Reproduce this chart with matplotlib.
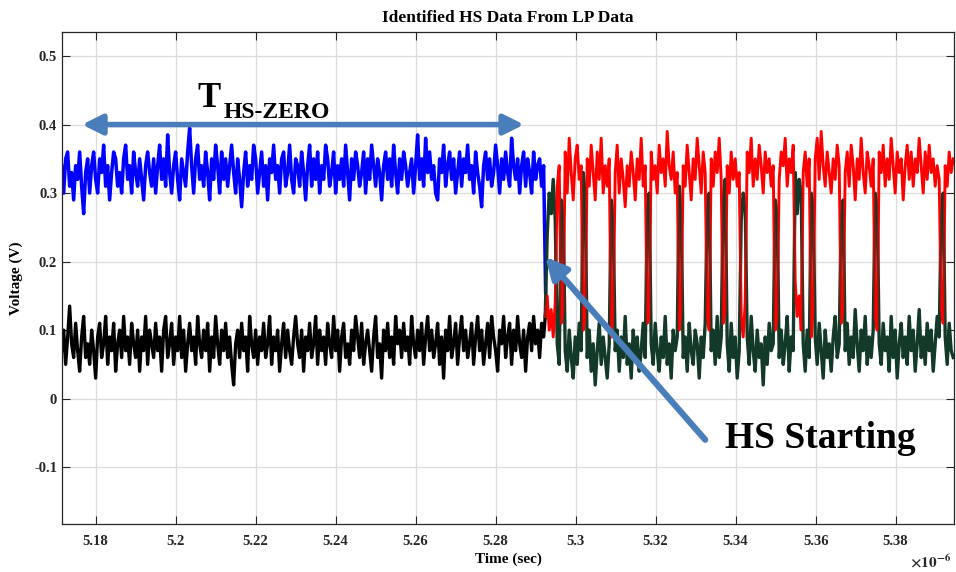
import numpy as np
import matplotlib
matplotlib.use("Agg")
import matplotlib.pyplot as plt
from matplotlib import ticker

plt.rcParams['font.family'] = ['Liberation Serif', 'DejaVu Serif']
plt.rcParams['font.weight'] = 'bold'
plt.rcParams['axes.unicode_minus'] = False
plt.rcParams['mathtext.fontset'] = 'stix'

# LP part (before HS start): sampled every 0.0005 us from 5.1715 us
T0_LP = 5.1715
DT_LP = 0.0005
lp_blue = [
    0.34, 0.30, 0.35, 0.36, 0.31, 0.33, 0.29, 0.34, 0.32, 0.36,
    0.31, 0.27, 0.33, 0.35, 0.30, 0.34, 0.36, 0.32, 0.30, 0.35,
    0.33, 0.37, 0.31, 0.34, 0.29, 0.33, 0.36, 0.35, 0.31, 0.33,
    0.30, 0.35, 0.37, 0.32, 0.34, 0.30, 0.36, 0.33, 0.31, 0.35,
    0.32, 0.29, 0.34, 0.36, 0.33, 0.31, 0.35, 0.30, 0.34, 0.37,
    0.32, 0.35, 0.31, 0.385, 0.33, 0.30, 0.34, 0.36, 0.32, 0.29,
    0.35, 0.33, 0.31, 0.36, 0.395, 0.34, 0.30, 0.35, 0.37, 0.32,
    0.34, 0.31, 0.36, 0.33, 0.29, 0.35, 0.32, 0.37, 0.34, 0.30,
    0.36, 0.32, 0.35, 0.31, 0.34, 0.37, 0.33, 0.30, 0.35, 0.32,
    0.28, 0.33, 0.36, 0.31, 0.34, 0.32, 0.37, 0.35, 0.30, 0.33,
    0.36, 0.31, 0.34, 0.29, 0.35, 0.33, 0.37, 0.32, 0.34, 0.30,
    0.35, 0.36, 0.31, 0.33, 0.37, 0.32, 0.30, 0.35, 0.34, 0.31,
    0.36, 0.33, 0.29, 0.34, 0.37, 0.31, 0.35, 0.32, 0.36, 0.30,
    0.34, 0.32, 0.37, 0.35, 0.31, 0.33, 0.36, 0.30, 0.34, 0.32,
    0.35, 0.31, 0.37, 0.33, 0.29, 0.35, 0.32, 0.36, 0.34, 0.31,
    0.33, 0.36, 0.30, 0.35, 0.32, 0.37, 0.34, 0.31, 0.35, 0.33,
    0.29, 0.34, 0.36, 0.32, 0.35, 0.31, 0.37, 0.33, 0.30, 0.35,
    0.32, 0.36, 0.34, 0.31, 0.33, 0.35, 0.30, 0.34, 0.385, 0.32,
    0.35, 0.31, 0.38, 0.33, 0.36, 0.32, 0.34, 0.30, 0.29, 0.35,
    0.33, 0.37, 0.31, 0.34, 0.36, 0.32, 0.35, 0.30, 0.33, 0.36,
    0.31, 0.35, 0.33, 0.37, 0.32, 0.34, 0.30, 0.36, 0.33, 0.31,
    0.28, 0.34, 0.36, 0.32, 0.35, 0.31, 0.33, 0.37, 0.34, 0.30,
    0.35, 0.32, 0.36, 0.33, 0.31, 0.38, 0.34, 0.32, 0.35, 0.30,
    0.34, 0.36, 0.31, 0.35, 0.33, 0.30, 0.36, 0.32, 0.34, 0.35,
    0.31, 0.34, 0.155,
]
lp_black = [
    0.07, 0.10, 0.05, 0.09, 0.135, 0.08, 0.06, 0.11, 0.07, 0.04,
    0.09, 0.12, 0.06, 0.08, 0.05, 0.10, 0.07, 0.03, 0.09, 0.11,
    0.06, 0.08, 0.12, 0.05, 0.09, 0.07, 0.11, 0.04, 0.08, 0.10,
    0.06, 0.12, 0.07, 0.09, 0.05, 0.11, 0.08, 0.06, 0.10, 0.04,
    0.09, 0.07, 0.12, 0.05, 0.10, 0.08, 0.06, 0.11, 0.07, 0.09,
    0.04, 0.10, 0.12, 0.06, 0.08, 0.11, 0.05, 0.09, 0.07, 0.12,
    0.06, 0.10, 0.04, 0.08, 0.11, 0.07, 0.09, 0.05, 0.12, 0.08,
    0.06, 0.10, 0.07, 0.11, 0.04, 0.09, 0.06, 0.12, 0.08, 0.05,
    0.10, 0.07, 0.11, 0.06, 0.09, 0.05, 0.02, 0.08, 0.10, 0.06,
    0.11, 0.07, 0.09, 0.04, 0.12, 0.08, 0.06, 0.10, 0.05, 0.09,
    0.07, 0.11, 0.06, 0.08, 0.12, 0.05, 0.09, 0.07, 0.10, 0.04,
    0.08, 0.11, 0.06, 0.10, 0.07, 0.05, 0.09, 0.12, 0.08, 0.06,
    0.10, 0.04, 0.09, 0.07, 0.11, 0.06, 0.08, 0.12, 0.05, 0.10,
    0.07, 0.09, 0.05, 0.11, 0.08, 0.06, 0.12, 0.07, 0.10, 0.04,
    0.09, 0.11, 0.06, 0.08, 0.05, 0.10, 0.07, 0.12, 0.09, 0.06,
    0.11, 0.05, 0.08, 0.10, 0.07, 0.04, 0.09, 0.12, 0.06, 0.08,
    0.03, 0.10, 0.07, 0.11, 0.06, 0.09, 0.05, 0.12, 0.08, 0.10,
    0.06, 0.11, 0.07, 0.09, 0.05, 0.12, 0.08, 0.06, 0.10, 0.07,
    0.11, 0.05, 0.09, 0.12, 0.07, 0.10, 0.06, 0.08, 0.11, 0.05,
    0.09, 0.03, 0.10, 0.07, 0.12, 0.06, 0.08, 0.11, 0.05, 0.09,
    0.12, 0.07, 0.10, 0.06, 0.08, 0.11, 0.05, 0.09, 0.12, 0.07,
    0.10, 0.05, 0.08, 0.11, 0.06, 0.12, 0.09, 0.07, 0.04, 0.10,
    0.08, 0.12, 0.06, 0.09, 0.11, 0.05, 0.10, 0.07, 0.12, 0.08,
    0.06, 0.10, 0.04, 0.09, 0.11, 0.07, 0.12, 0.08, 0.10, 0.06,
    0.11, 0.09, 0.126,
]

# HS part: sampled every 0.0005 us from 5.2924 us
T0_HS = 5.2924
DT_HS = 0.0005
hs_red = [
    0.12, 0.15, 0.10, 0.13, 0.09, 0.14,
    0.31, 0.34,
    0.11, 0.13,
    0.36, 0.30, 0.38, 0.33, 0.29, 0.35, 0.37, 0.32, 0.34,
    0.10, 0.12,
    0.35, 0.31, 0.37, 0.33, 0.29, 0.36, 0.32, 0.38, 0.30, 0.34, 0.31, 0.35,
    0.09, 0.13,
    0.33, 0.37, 0.30, 0.35, 0.32, 0.28, 0.34, 0.31, 0.36, 0.33, 0.29, 0.35,
    0.32, 0.38, 0.31, 0.34,
    0.11, 0.12,
    0.36, 0.32, 0.34, 0.30, 0.37, 0.33, 0.35, 0.31, 0.39, 0.34, 0.32, 0.36,
    0.30, 0.33,
    0.10, 0.13,
    0.34, 0.31, 0.37, 0.33, 0.29, 0.35, 0.32, 0.38, 0.34, 0.30, 0.36, 0.33,
    0.12, 0.10,
    0.35, 0.31, 0.36, 0.33, 0.38, 0.32,
    0.11, 0.13,
    0.34, 0.30, 0.36, 0.32, 0.35, 0.31, 0.33,
    0.12, 0.09, 0.14,
    0.36, 0.33, 0.38, 0.31, 0.35, 0.32, 0.37, 0.34, 0.30, 0.36, 0.33, 0.35,
    0.31, 0.34,
    0.10, 0.12,
    0.32, 0.36, 0.34, 0.38, 0.31, 0.35, 0.33, 0.37,
    0.17, 0.12, 0.15, 0.10,
    0.33, 0.36, 0.31, 0.35,
    0.09, 0.13,
    0.35, 0.38, 0.32, 0.39, 0.34, 0.31, 0.36, 0.33, 0.30, 0.35, 0.32, 0.37,
    0.34,
    0.11, 0.13,
    0.33, 0.36, 0.31, 0.37, 0.34, 0.29, 0.35, 0.32, 0.38, 0.33, 0.30, 0.36,
    0.34, 0.31, 0.35,
    0.12, 0.10,
    0.36, 0.33, 0.37, 0.31, 0.35, 0.32, 0.38, 0.34, 0.30, 0.36, 0.33, 0.35,
    0.29, 0.34, 0.37, 0.32, 0.36, 0.31, 0.35, 0.33, 0.38, 0.34, 0.30, 0.36,
    0.32, 0.37, 0.33, 0.35, 0.31, 0.34, 0.32,
    0.13, 0.11,
    0.34, 0.31, 0.36, 0.33, 0.35,
]
hs_green = [
    0.12, 0.24, 0.30, 0.27, 0.32, 0.26,
    0.08, 0.05,
    0.29, 0.27,
    0.07, 0.04, 0.10, 0.06, 0.03, 0.09, 0.05, 0.11, 0.07,
    0.33, 0.30,
    0.06, 0.10, 0.04, 0.08, 0.02, 0.07, 0.11, 0.05, 0.09, 0.06, 0.03, 0.08,
    0.29, 0.26,
    0.07, 0.10, 0.04, 0.09, 0.06, 0.12, 0.05, 0.08, 0.03, 0.10, 0.06, 0.09,
    0.04, 0.07, 0.11, 0.06,
    0.28, 0.30,
    0.08, 0.05, 0.11, 0.07, 0.04, 0.09, 0.06, 0.12, 0.05, 0.08, 0.03, 0.10,
    0.07, 0.09,
    0.31, 0.27,
    0.06, 0.09, 0.04, 0.11, 0.07, 0.05, 0.10, 0.08, 0.03, 0.09, 0.06, 0.11,
    0.28, 0.30,
    0.07, 0.10, 0.05, 0.12, 0.06, 0.09,
    0.29, 0.32,
    0.08, 0.04, 0.11, 0.06, 0.09, 0.03, 0.07,
    0.26, 0.30, 0.28,
    0.09, 0.05, 0.12, 0.07, 0.04, 0.10, 0.06, 0.08, 0.02, 0.09, 0.05, 0.11,
    0.07, 0.08,
    0.29, 0.27,
    0.06, 0.10, 0.05, 0.08, 0.12, 0.04, 0.09, 0.07,
    0.33, 0.27, 0.32, 0.30,
    0.08, 0.04, 0.10, 0.06,
    0.30, 0.28,
    0.09, 0.05, 0.11, 0.07, 0.03, 0.10, 0.06, 0.08, 0.04, 0.09, 0.12, 0.06,
    0.08,
    0.27, 0.29,
    0.07, 0.11, 0.05, 0.09, 0.06, 0.13, 0.08, 0.04, 0.10, 0.07, 0.12, 0.05,
    0.09, 0.06, 0.10,
    0.30, 0.28,
    0.08, 0.05, 0.11, 0.07, 0.09, 0.04, 0.12, 0.06, 0.10, 0.03, 0.08, 0.11,
    0.06, 0.09, 0.05, 0.12, 0.07, 0.10, 0.04, 0.08, 0.13, 0.06, 0.09, 0.05,
    0.11, 0.07, 0.10, 0.04, 0.08, 0.12, 0.09,
    0.27, 0.30,
    0.09, 0.05, 0.11, 0.07, 0.06,
]

x_ticks = [5.18, 5.20, 5.22, 5.24, 5.26, 5.28, 5.30, 5.32, 5.34, 5.36, 5.38]
y_ticks = [-0.1, 0.0, 0.1, 0.2, 0.3, 0.4, 0.5]

t_lp = T0_LP + DT_LP * np.arange(len(lp_blue))
t_hs = T0_HS + DT_HS * np.arange(len(hs_red))

fig = plt.figure(figsize=(9.56, 5.72), dpi=100)
ax = fig.add_axes([0.0649, 0.0839, 0.933, 0.860])

ax.plot(t_lp, lp_black, color='black', lw=2.4)
ax.plot(t_lp, lp_blue, color='#0000ff', lw=2.5)
ax.plot(t_hs, hs_green, color='#133a28', lw=2.4)
ax.plot(t_hs, hs_red, color='#ff0000', lw=2.1)
ax.plot(t_hs, hs_green, color='#133a28', lw=1.4, alpha=0.55)

ax.set_xlim(5.1716, 5.3946)
ax.set_ylim(-0.183, 0.535)
ax.set_xticks(x_ticks)
ax.set_yticks(y_ticks)
ax.xaxis.set_major_formatter(ticker.FormatStrFormatter('%g'))
ax.yaxis.set_major_formatter(ticker.FormatStrFormatter('%g'))
ax.tick_params(direction='in', length=6, width=0.8, top=True, right=True,
               labelsize=10.5, colors='#262626', labelcolor='#262626')
ax.tick_params(axis='x', pad=8)
for lab in ax.get_xticklabels() + ax.get_yticklabels():
    lab.set_fontweight('bold')
ax.grid(True, color='#dcdcdc', lw=0.9)
ax.set_axisbelow(True)
for sp in ax.spines.values():
    sp.set_color('#262626')
    sp.set_linewidth(0.9)

ax.set_xlabel('Time (sec)', fontsize=11, fontweight='bold', labelpad=3)
ax.set_ylabel('Voltage (V)', fontsize=11, fontweight='bold', labelpad=8)
ax.set_title('Identified HS Data From LP Data', fontsize=12.5, fontweight='bold', pad=7)
fig.text(0.995, 0.003, r'$\times10^{-6}$', fontsize=11, ha='right', va='bottom',
         color='#262626')

arrow_col = '#4a7ebb'
ax.annotate('', xy=(5.1766, 0.4), xytext=(5.2871, 0.4),
            arrowprops=dict(arrowstyle='<|-|>', color=arrow_col, lw=4,
                            mutation_scale=30, shrinkA=0, shrinkB=0))
ax.text(5.2054, 0.426, 'T', fontsize=25, fontweight='bold', va='baseline')
ax.text(5.2119, 0.409, 'HS-ZERO', fontsize=17, fontweight='bold', va='baseline')

ax.annotate('', xy=(5.2924, 0.207), xytext=(5.3324, -0.06),
            arrowprops=dict(arrowstyle='-|>', color=arrow_col, lw=4.5,
                            mutation_scale=32, shrinkA=0, shrinkB=0))
ax.text(5.3374, -0.0715, 'HS Starting', fontsize=27, fontweight='bold', va='baseline')

fig.savefig('out.png', dpi=100)
